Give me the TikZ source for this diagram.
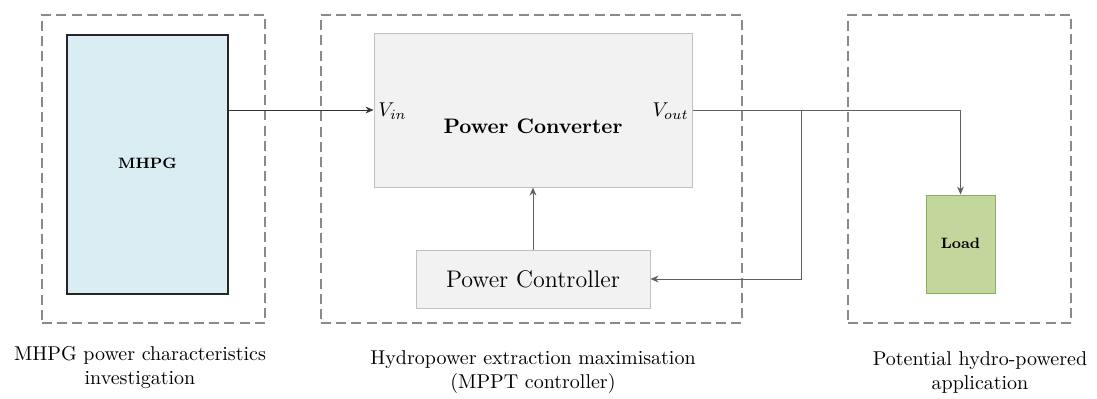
\documentclass[tikz,border=0pt]{standalone}
\usetikzlibrary{arrows.meta}
\definecolor{mhpgfill}{HTML}{DAEDF3}
\definecolor{convfill}{HTML}{F2F2F2}
\definecolor{convline}{HTML}{C0C0C0}
\definecolor{loadfill}{HTML}{C3D69B}
\definecolor{loadline}{HTML}{8DAE5C}
\definecolor{dashgray}{HTML}{8A8A8A}
\definecolor{wiregray}{HTML}{606060}
\begin{document}
\begin{tikzpicture}[x=0.5pt,y=-0.5pt,
  region/.style={draw=dashgray,line width=1pt,dash pattern=on 5pt off 2.6pt,inner sep=0pt,rectangle},
  blockbox/.style={rectangle,inner sep=0pt},
  wire/.style={draw=wiregray,line width=0.5pt},
  arr/.style={-{Stealth[length=4pt,width=3.4pt]}},
  caption/.style={align=center,font=\normalsize,inner sep=0pt}]
\useasboundingbox (0,0) rectangle (1097,398);
% regions
\node[region,minimum width=111.5pt,minimum height=154pt] (r1) at (153.5,169) {};
\node[region,minimum width=210.5pt,minimum height=154pt] (r2) at (531.5,169) {};
\node[region,minimum width=111.5pt,minimum height=154pt] (r3) at (959.5,169) {};
% blocks
\node[blockbox,draw=black!85,line width=0.7pt,fill=mhpgfill,minimum width=80.5pt,minimum height=129.5pt] (mhpg) at (147.5,164.5) {};
\node[font=\fontsize{7.5}{9}\selectfont\bfseries] (mhpgt) at (147.5,163) {MHPG};
\node[blockbox,draw=convline,line width=0.5pt,fill=convfill,minimum width=159pt,minimum height=77pt] (conv) at (533,110) {};
\node[font=\fontsize{10.5}{12}\selectfont\bfseries] (convt) at (533,126) {Power Converter};
\node[anchor=west,inner sep=0pt] (vin) at (378,111) {$V_{in}$};
\node[anchor=east,inner sep=0pt] (vout) at (689,111) {$V_{out}$};
\node[blockbox,draw=convline,line width=0.5pt,fill=convfill,minimum width=117pt,minimum height=29pt,font=\large] (ctrl) at (533,279) {Power Controller};
\node[blockbox,draw=loadline,line width=0.5pt,fill=loadfill,minimum width=34.5pt,minimum height=49pt] (load) at (960.5,244) {};
\node[font=\fontsize{7.5}{9}\selectfont\bfseries] (loadt) at (960.5,243) {Load};
% captions
\node[caption] (c1) at (140,367) {MHPG power characteristics\\investigation};
\node[caption] (c2) at (533,372) {Hydropower extraction maximisation\\(MPPT controller)};
\node[caption] (c3) at (980,372) {Potential hydro-powered\\application};
% connectors
\coordinate (br) at (801,110);
\draw[wire,draw=black!80,arr] (conv.west -| mhpg.east) -- (conv.west);
\draw[wire] (conv.east) -- (br);
\draw[wire,arr] (br) -| (load.north);
\draw[wire,arr] (br) |- (ctrl.east);
\draw[wire,arr] (ctrl.north) -- (conv.south);
\end{tikzpicture}
\end{document}
